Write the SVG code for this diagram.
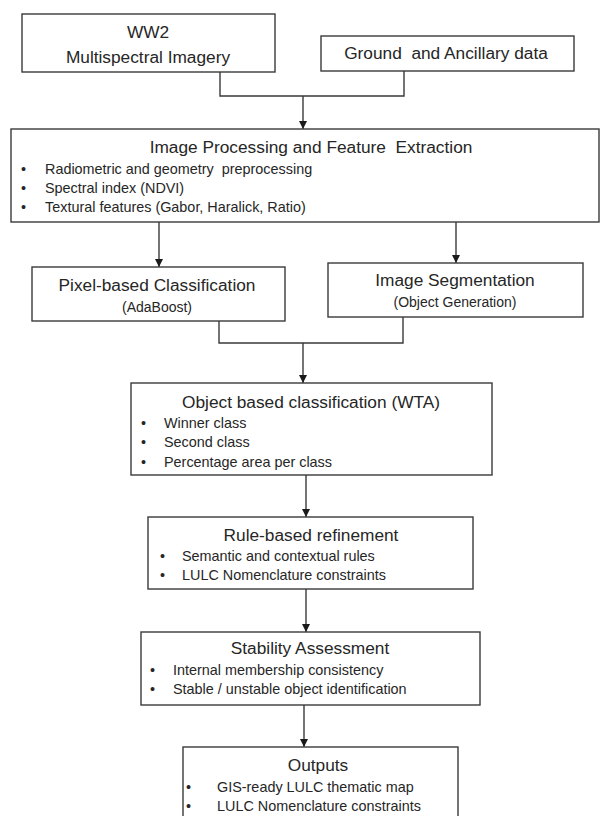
<svg xmlns="http://www.w3.org/2000/svg" width="603" height="816" viewBox="0 0 603 816">
<defs>
<style>
.box{fill:#fff;stroke:#3a3a3a;stroke-width:1.4}
.ln{fill:none;stroke:#3a3a3a;stroke-width:1.4}
.hd{fill:#1a1a1a}
text{font-family:"Liberation Sans",Arial,sans-serif;fill:#262626}
.t{font-size:17.3px;text-anchor:middle}
.s{font-size:14px;text-anchor:middle}
.b{font-size:14.4px}
</style>
</defs>
<rect width="603" height="816" fill="#fff"/>
<g id="connectors">
<path class="ln" d="M220,72 V96 H404 V71"/>
<path class="ln" d="M303,96 V129"/>
<path class="hd" d="M299,121 L307,121 L303,129 Z"/>
<path class="ln" d="M159,222 V267"/>
<path class="hd" d="M155,259 L163,259 L159,267 Z"/>
<path class="ln" d="M456,222 V263"/>
<path class="hd" d="M452,255 L460,255 L456,263 Z"/>
<path class="ln" d="M219,321 V343 H403 V317"/>
<path class="ln" d="M303,343 V383"/>
<path class="hd" d="M299,375 L307,375 L303,383 Z"/>
<path class="ln" d="M306,475 V517"/>
<path class="hd" d="M302,509 L310,509 L306,517 Z"/>
<path class="ln" d="M306,589 V632"/>
<path class="hd" d="M302,624 L310,624 L306,632 Z"/>
<path class="ln" d="M304,705 V747"/>
<path class="hd" d="M300,739 L308,739 L304,747 Z"/>
</g>
<g id="ww2">
<rect class="box" x="22" y="14" width="253" height="58"/>
<text class="t" x="148" y="38">WW2</text>
<text class="t" x="148" y="63">Multispectral Imagery</text>
</g>
<g id="ground">
<rect class="box" x="321" y="36" width="253" height="35"/>
<text class="t" x="446" y="59" xml:space="preserve">Ground  and Ancillary data</text>
</g>
<g id="processing">
<rect class="box" x="11" y="129" width="588" height="93"/>
<text class="t" x="311" y="153" xml:space="preserve">Image Processing and Feature  Extraction</text>
<text class="b" x="21" y="174">•</text>
<text class="b" x="45" y="174" xml:space="preserve">Radiometric and geometry  preprocessing</text>
<text class="b" x="21" y="193">•</text>
<text class="b" x="45" y="193">Spectral index (NDVI)</text>
<text class="b" x="21" y="212">•</text>
<text class="b" x="45" y="212">Textural features (Gabor, Haralick, Ratio)</text>
</g>
<g id="pixel">
<rect class="box" x="32" y="267" width="253" height="54"/>
<text class="t" x="157" y="291">Pixel-based Classification</text>
<text class="s" x="157" y="312">(AdaBoost)</text>
</g>
<g id="segmentation">
<rect class="box" x="328" y="263" width="255" height="54"/>
<text class="t" x="455" y="286">Image Segmentation</text>
<text class="s" x="455" y="307">(Object Generation)</text>
</g>
<g id="object">
<rect class="box" x="131" y="383" width="361" height="92"/>
<text class="t" x="311" y="408">Object based classification (WTA)</text>
<text class="b" x="141" y="428">•</text>
<text class="b" x="164" y="428">Winner class</text>
<text class="b" x="141" y="447">•</text>
<text class="b" x="164" y="447">Second class</text>
<text class="b" x="141" y="467">•</text>
<text class="b" x="164" y="467">Percentage area per class</text>
</g>
<g id="rule">
<rect class="box" x="148" y="517" width="325" height="72"/>
<text class="t" x="311" y="541">Rule-based refinement</text>
<text class="b" x="160" y="561">•</text>
<text class="b" x="182" y="561">Semantic and contextual rules</text>
<text class="b" x="160" y="580">•</text>
<text class="b" x="182" y="580">LULC Nomenclature constraints</text>
</g>
<g id="stability">
<rect class="box" x="141" y="632" width="339" height="73"/>
<text class="t" x="310" y="654">Stability Assessment</text>
<text class="b" x="150" y="675">•</text>
<text class="b" x="173" y="675">Internal membership consistency</text>
<text class="b" x="150" y="694">•</text>
<text class="b" x="173" y="694">Stable / unstable object identification</text>
</g>
<g id="outputs">
<rect class="box" x="183" y="747" width="275" height="75"/>
<text class="t" x="318" y="771">Outputs</text>
<text class="b" x="186" y="792">•</text>
<text class="b" x="217" y="792">GIS-ready LULC thematic map</text>
<text class="b" x="186" y="811">•</text>
<text class="b" x="217" y="811">LULC Nomenclature constraints</text>
</g>
</svg>
